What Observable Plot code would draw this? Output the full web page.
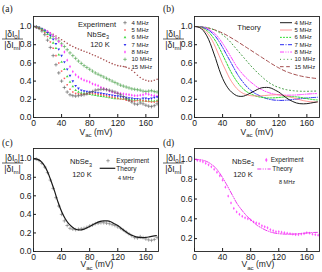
<!DOCTYPE html>
<html><head><meta charset="utf-8">
<script src="https://cdn.jsdelivr.net/npm/d3@7"></script>
<script src="https://cdn.jsdelivr.net/npm/@observablehq/plot@0.6"></script>
<style>
body{margin:0;background:#fff;}
#wrap{position:relative;width:322px;height:272px;overflow:hidden;background:#fff;}
.panel{position:absolute;}
</style></head><body><div id="wrap"></div>
<script>
// ---------- data ----------
const freqs = ["4 MHz","5 MHz","6 MHz","7 MHz","8 MHz","10 MHz","15 MHz"];
const vExp = [0,4,8,12,16,20,24,28,32,36,40,44,48,52,56,60,64,68,72,76,80,84,88,92,96,100,104,108,112,116,120,124,128,132,136,140,144,148,152,156,160,164,168,172,176];
const exp4 = [1.00,0.995,0.98,0.95,0.91,0.85,0.77,0.68,0.58,0.49,0.40,0.33,0.28,0.25,0.24,0.235,0.24,0.245,0.25,0.26,0.275,0.285,0.30,0.305,0.31,0.31,0.305,0.30,0.29,0.28,0.265,0.25,0.23,0.21,0.19,0.17,0.15,0.145,0.16,0.15,0.135,0.125,0.12,0.13,0.15];
const exp5 = [1.0,0.995,0.98,0.96,0.93,0.89,0.83,0.76,0.68,0.60,0.51,0.43,0.36,0.31,0.28,0.265,0.26,0.255,0.255,0.26,0.265,0.265,0.26,0.255,0.25,0.245,0.24,0.23,0.225,0.22,0.21,0.205,0.20,0.19,0.185,0.18,0.18,0.185,0.19,0.185,0.18,0.175,0.17,0.17,0.175];
const exp6 = [1.0,0.995,0.985,0.97,0.945,0.915,0.875,0.82,0.76,0.69,0.61,0.53,0.45,0.39,0.34,0.30,0.28,0.27,0.265,0.26,0.255,0.25,0.245,0.24,0.235,0.23,0.225,0.22,0.215,0.21,0.21,0.205,0.20,0.20,0.195,0.195,0.19,0.19,0.185,0.185,0.18,0.18,0.18,0.18,0.185];
const exp7 = [1.0,0.998,0.99,0.975,0.955,0.93,0.90,0.86,0.81,0.75,0.68,0.61,0.53,0.46,0.40,0.35,0.32,0.30,0.29,0.285,0.28,0.28,0.275,0.27,0.265,0.26,0.255,0.25,0.245,0.24,0.235,0.23,0.225,0.22,0.215,0.21,0.205,0.205,0.20,0.21,0.21,0.205,0.21,0.22,0.225];
const exp8 = [1.0,0.99,0.985,0.975,0.96,0.945,0.925,0.90,0.87,0.835,0.79,0.72,0.63,0.56,0.505,0.47,0.445,0.425,0.41,0.40,0.39,0.37,0.36,0.35,0.33,0.32,0.31,0.29,0.28,0.27,0.27,0.265,0.26,0.255,0.25,0.245,0.24,0.24,0.245,0.25,0.26,0.255,0.245,0.24,0.235];
const exp10 = [1.0,0.995,0.985,0.97,0.955,0.935,0.915,0.89,0.865,0.84,0.81,0.78,0.745,0.71,0.68,0.65,0.62,0.595,0.57,0.55,0.53,0.51,0.49,0.475,0.46,0.445,0.43,0.415,0.40,0.385,0.37,0.355,0.345,0.335,0.325,0.315,0.31,0.305,0.30,0.29,0.285,0.29,0.295,0.285,0.28];
const exp15 = [1.0,0.995,0.985,0.975,0.962,0.948,0.932,0.915,0.895,0.875,0.855,0.835,0.815,0.795,0.78,0.765,0.752,0.74,0.728,0.717,0.705,0.69,0.678,0.664,0.65,0.635,0.62,0.605,0.592,0.58,0.57,0.565,0.56,0.552,0.54,0.52,0.495,0.465,0.44,0.42,0.41,0.40,0.40,0.41,0.42];

const vTh = [0,5,10,15,20,25,30,35,40,45,50,55,60,65,70,75,80,85,90,95,100,105,110,115,120,125,130,135,140,145,150,155,160,165,170,175];
const th4 = [1.0,0.995,0.975,0.93,0.86,0.76,0.65,0.53,0.43,0.355,0.30,0.265,0.24,0.232,0.235,0.25,0.27,0.29,0.31,0.325,0.33,0.33,0.32,0.30,0.28,0.25,0.22,0.195,0.175,0.16,0.152,0.15,0.152,0.158,0.165,0.172];
const th5 = [1,0.997,0.985,0.955,0.91,0.85,0.77,0.68,0.59,0.51,0.43,0.37,0.32,0.285,0.262,0.248,0.24,0.237,0.236,0.238,0.241,0.245,0.248,0.25,0.249,0.245,0.238,0.228,0.217,0.205,0.195,0.185,0.178,0.173,0.17,0.169];
const th6 = [1,0.998,0.99,0.97,0.94,0.895,0.84,0.77,0.69,0.61,0.53,0.46,0.40,0.35,0.31,0.28,0.26,0.243,0.23,0.222,0.217,0.215,0.215,0.217,0.22,0.224,0.227,0.229,0.229,0.227,0.222,0.215,0.208,0.201,0.196,0.193];
const th7 = [1,0.998,0.993,0.98,0.96,0.93,0.89,0.835,0.77,0.70,0.63,0.56,0.49,0.43,0.38,0.335,0.30,0.27,0.25,0.23,0.215,0.203,0.195,0.19,0.188,0.188,0.19,0.193,0.197,0.201,0.206,0.21,0.214,0.218,0.22,0.222];
const th8 = [1,0.999,0.995,0.985,0.97,0.945,0.915,0.87,0.815,0.755,0.69,0.625,0.56,0.51,0.465,0.425,0.39,0.36,0.33,0.31,0.29,0.275,0.263,0.255,0.25,0.247,0.245,0.245,0.246,0.248,0.251,0.254,0.257,0.26,0.262,0.263];
const th10 = [1,1,0.998,0.993,0.985,0.973,0.957,0.935,0.91,0.877,0.84,0.795,0.75,0.705,0.66,0.615,0.57,0.53,0.49,0.455,0.42,0.39,0.365,0.345,0.33,0.317,0.307,0.30,0.295,0.291,0.289,0.288,0.288,0.289,0.29,0.291];
const th15 = [1,0.999,0.996,0.99,0.982,0.972,0.96,0.945,0.928,0.908,0.886,0.863,0.84,0.815,0.79,0.765,0.74,0.715,0.69,0.665,0.64,0.615,0.59,0.567,0.545,0.525,0.507,0.492,0.479,0.468,0.458,0.45,0.443,0.437,0.432,0.428];

const xTicks = [0,40,80,120,160];
const yTicksFull = [0,0.2,0.4,0.6,0.8,1.0];
const yTicksD = [0.2,0.4,0.6,0.8,1.0];

// ---------- styles ----------
const SANS = "'Liberation Sans', Arial, sans-serif";
const SERIF = "'Liberation Serif', 'Times New Roman', serif";
const expColors = ["#555555","#ff5a5a","#44d844","#3030f0","#ff44ff","#459e45","#a85252"];
const expSymbols = ["plus","square","triangle","triangle","diamond","plus","circle"];
const expRotate = [0,0,0,180,0,0,0];
const expR = {plus:1.25, square:0.85, triangle:1.0, diamond:1.0, circle:0.8};
const thColors = ["#1a1a1a","#ff7d7d","#26dc26","#2b2bf0","#ff40ff","#3f9a3f","#a34b4b"];
const thDash = [null,null,"1.8,1.3","4,1.5,1,1.5","4,1.4,1,1.4,1,1.4","1,2.6","3.6,2.6"];
const thWidth = [1,0.8,1,1,1,1,1];

const expSets = [exp4,exp5,exp6,exp7,exp8,exp10,exp15];
const thSets = [th4,th5,th6,th7,th8,th10,th15];
const expRows = expSets.flatMap((vals,i)=>vExp.map((v,j)=>({v,val:vals[j],f:freqs[i]})));
const thRows = thSets.flatMap((vals,i)=>vTh.map((v,j)=>({v,val:vals[j],f:freqs[i]})));

function expDots(rows, i, extra={}) {
  const stroke = expSymbols[i]==="plus";
  return Plot.dot(rows.filter(d=>d.f===freqs[i]), {
    x:"v", y:"val", symbol: expSymbols[i], rotate: expRotate[i],
    r: expR[expSymbols[i]],
    fill: stroke ? "none" : expColors[i], stroke: stroke ? expColors[i] : "none",
    strokeWidth: 0.6, clip: true, ...extra
  });
}
function thLine(i, extra={}) {
  return Plot.line(thRows.filter(d=>d.f===freqs[i]), {
    x:"v", y:"val", stroke: thColors[i], strokeWidth: thWidth[i],
    strokeDasharray: thDash[i], curve:"catmull-rom", clip: true, ...extra
  });
}

function makePanel({mt, mb, yDomain, yTicks, marks}) {
  return Plot.plot({
    width: 161, height: 136,
    marginLeft: 33, marginRight: 3, marginTop: mt, marginBottom: mb,
    style: {background:"transparent", fontFamily: SANS, fontSize:"8.5px", color:"#1a1a1a", overflow:"visible"},
    x: {domain:[0,178], ticks: xTicks, tickFormat: d=>String(d), tickSize: -3, tickPadding: 5, label: null},
    y: {domain: yDomain, ticks: yTicks, tickFormat: d3.format(".1f"), tickSize: -3, tickPadding: 5, label: null},
    marks: [...marks, Plot.frame({stroke:"#222", strokeWidth:0.9})]
  });
}

// ---------- annotation helpers ----------
function text(svg, x, y, parts, {size=8, anchor="start", family=SANS, fill="#1a1a1a"}={}) {
  const t = d3.select(svg).append("text").attr("x",x).attr("y",y)
    .attr("text-anchor",anchor).attr("font-size",size).attr("font-family",family).attr("fill",fill);
  let shifted = false;
  for (const p of parts) {
    const [s, sub] = Array.isArray(p) ? p : [p, false];
    const ts = t.append("tspan").text(s);
    if (sub && !shifted) { ts.attr("dy", size*0.3).attr("font-size", size*0.72); shifted = true; }
    else if (sub) { ts.attr("font-size", size*0.72); }
    else if (shifted) { ts.attr("dy", -size*0.3); shifted = false; }
  }
  return t;
}
const symMap = {plus:d3.symbolPlus, square:d3.symbolSquare, triangle:d3.symbolTriangle, diamond:d3.symbolDiamond, circle:d3.symbolCircle};
function sym(svg, type, x, y, r, color, rot=0) {
  const stroke = type==="plus";
  d3.select(svg).append("path").attr("d", d3.symbol(symMap[type], r*r*Math.PI)())
    .attr("transform", `translate(${x},${y}) rotate(${rot})`)
    .attr("fill", stroke ? "none" : color).attr("stroke", stroke ? color : "none").attr("stroke-width",0.6);
}
function seg(svg, x1, x2, y, color, dash, w=1) {
  d3.select(svg).append("line").attr("x1",x1).attr("x2",x2).attr("y1",y).attr("y2",y)
    .attr("stroke",color).attr("stroke-width",w).attr("stroke-dasharray",dash);
}
function fracLabel(svg, cx, yLine) {
  text(svg, cx, yLine-2.5, ["|δI",["0",true],"|"], {size:8.5, anchor:"middle"});
  d3.select(svg).append("line").attr("x1",cx-10.5).attr("x2",cx+10.5).attr("y1",yLine).attr("y2",yLine).attr("stroke","#1a1a1a").attr("stroke-width",0.7);
  text(svg, cx, yLine+8.5, ["|δI",["m",true],"|"], {size:8.5, anchor:"middle"});
}
function vLabel(svg, cx, y) { text(svg, cx, y, ["V",["ac",true]," (mV)"], {size:8.5, anchor:"middle"}); }

const wrap = document.getElementById("wrap");
function place(svg, x, y) { const d = document.createElement("div"); d.className="panel"; d.style.left=x+"px"; d.style.top=y+"px"; d.appendChild(svg); wrap.appendChild(d); }

// ---------- (a) experiment ----------
const order = [6,5,4,3,2,1,0];
const A = makePanel({mt:16, mb:19, yDomain:[0,1.11], yTicks:yTicksFull, marks: order.map(i=>expDots(expRows,i))});
text(A, 2, 11.5, ["(a)"], {size:9.5, family:SERIF});
fracLabel(A, 12.5, 39);
vLabel(A, 96, 134.5);
text(A, 97, 26.5, ["Experiment"], {size:7.5, anchor:"middle"});
text(A, 98, 37, ["NbSe",["3",true]], {size:7.5, anchor:"middle"});
text(A, 100, 47, ["120 K"], {size:7.5, anchor:"middle"});
freqs.forEach((f,i)=>{
  const y = 22.7 + i*7.33;
  sym(A, expSymbols[i], 125, y, expR[expSymbols[i]], expColors[i], expRotate[i]);
  text(A, 131.5, y+2.1, [f], {size:6});
});
place(A, 0, 0);

// ---------- (b) theory ----------
const B = makePanel({mt:16, mb:19, yDomain:[0,1.11], yTicks:yTicksFull, marks: order.map(i=>thLine(i))});
text(B, 2, 11.5, ["(b)"], {size:9.5, family:SERIF});
fracLabel(B, 12.5, 39);
vLabel(B, 96, 134.5);
text(B, 88, 29.5, ["Theory"], {size:7.5, anchor:"middle"});
freqs.forEach((f,i)=>{
  const y = 22.7 + i*7.33;
  seg(B, 119, 131, y, thColors[i], thDash[i], thWidth[i]);
  text(B, 133.5, y+2.1, [f], {size:6});
});
place(B, 161, 0);

// ---------- (c) 4 MHz ----------
const C = makePanel({mt:12, mb:21, yDomain:[0,1.11], yTicks:yTicksFull, marks:[
  expDots(expRows, 0, {stroke:"#707070"}),
  thLine(0, {strokeWidth:1.2})
]});
text(C, 2, 9.5, ["(c)"], {size:9.5, family:SERIF});
fracLabel(C, 12.5, 27);
vLabel(C, 97, 131);
text(C, 81, 28.3, ["NbSe",["3",true]], {size:7.5, anchor:"middle"});
text(C, 82, 41, ["120 K"], {size:7.5, anchor:"middle"});
sym(C, "plus", 108, 24.7, 1.25, "#707070");
text(C, 116.3, 26.9, ["Experiment"], {size:6.5});
seg(C, 99.7, 115.3, 32.3, "#1a1a1a", null, 1.2);
text(C, 116.3, 34.5, ["Theory"], {size:6.5});
text(C, 118, 44.2, ["4 MHz"], {size:5.5});
place(C, 0, 136);

// ---------- (d) 8 MHz ----------
const D = makePanel({mt:12, mb:21, yDomain:[0.07,1.11], yTicks:yTicksD, marks:[
  expDots(expRows, 4, {fill:"#ff55ff"}),
  thLine(4, {stroke:"#ee33ee"})
]});
text(D, 2, 9.5, ["(d)"], {size:9.5, family:SERIF});
fracLabel(D, 12.5, 27);
vLabel(D, 97, 131);
text(D, 82, 28, ["NbSe",["3",true]], {size:7.5, anchor:"middle"});
text(D, 82, 41, ["120 K"], {size:7.5, anchor:"middle"});
sym(D, "diamond", 105.3, 24, 1.3, "#ff55ff");
text(D, 109.7, 26.2, ["Experiment"], {size:6.5});
seg(D, 96.3, 109.7, 33, "#ee33ee", thDash[4], 1);
text(D, 111.3, 35.2, ["Theory"], {size:6.5});
text(D, 118, 47.5, ["8 MHz"], {size:5.5});
place(D, 161, 136);
</script></body></html>
